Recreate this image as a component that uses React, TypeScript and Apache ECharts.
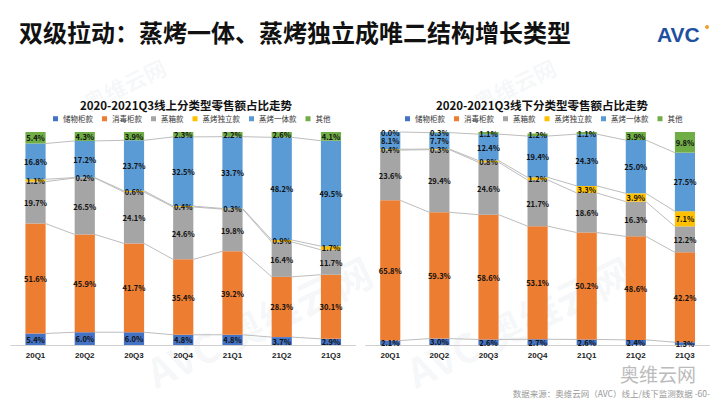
import React, { useEffect, useRef } from 'react';
import * as echarts from 'echarts';

const categories = ['20Q1', '20Q2', '20Q3', '20Q4', '21Q1', '21Q2', '21Q3'];
const seriesNames = ['储物柜款', '消毒柜款', '蒸箱款', '蒸烤独立款', '蒸烤一体款', '其他'];
const colors = ['#4472C4', '#ED7D31', '#A5A5A5', '#FFC000', '#5B9BD5', '#70AD47'];

// 线上
const onlineStorage = [5.4, 6.0, 6.0, 4.8, 4.8, 3.7, 2.9];
const onlineDisinfect = [51.6, 45.9, 41.7, 35.4, 39.2, 28.3, 30.1];
const onlineSteam = [19.7, 26.5, 24.1, 24.6, 19.8, 16.4, 11.7];
const onlineSteamOvenSep = [1.1, 0.2, 0.6, 0.4, 0.3, 0.9, 1.7];
const onlineSteamOvenCombo = [16.8, 17.2, 23.7, 32.5, 33.7, 48.2, 49.5];
const onlineOther = [5.4, 4.3, 3.9, 2.3, 2.2, 2.6, 4.1];

// 线下
const offlineStorage = [2.1, 3.0, 2.6, 2.7, 2.6, 2.4, 1.3];
const offlineDisinfect = [65.8, 59.3, 58.6, 53.1, 50.2, 48.6, 42.2];
const offlineSteam = [23.6, 29.4, 24.6, 21.7, 18.6, 16.3, 12.2];
const offlineSteamOvenSep = [0.4, 0.3, 0.8, 1.2, 3.3, 3.9, 7.1];
const offlineSteamOvenCombo = [8.1, 7.7, 12.4, 19.4, 24.3, 25.0, 27.5];
const offlineOther = [0.0, 0.3, 1.1, 1.2, 1.1, 3.9, 9.8];

const onlineData = [onlineStorage, onlineDisinfect, onlineSteam, onlineSteamOvenSep, onlineSteamOvenCombo, onlineOther];
const offlineData = [offlineStorage, offlineDisinfect, offlineSteam, offlineSteamOvenSep, offlineSteamOvenCombo, offlineOther];

const BAR_FRAC = 0.41;

function cumulative(data: number[][]) {
  const res: number[][] = [];
  let acc = categories.map(() => 0);
  for (let k = 0; k < data.length - 1; k++) {
    acc = acc.map((v, i) => v + data[k][i]);
    res.push(acc.slice());
  }
  return res;
}

function buildSeries(data: number[][], axisIndex: number) {
  const bars = data.map((vals, k) => ({
    name: seriesNames[k],
    type: 'bar',
    stack: 'total' + axisIndex,
    xAxisIndex: axisIndex,
    yAxisIndex: axisIndex,
    barWidth: BAR_FRAC * 100 + '%',
    itemStyle: { color: colors[k] },
    label: {
      show: true,
      position: 'inside',
      fontSize: 7.5,
      fontWeight: 'bold',
      color: '#111',
      fontFamily: 'Noto Sans CJK SC',
      formatter: (p: any) => Number(p.value).toFixed(1) + '%',
    },
    z: 3,
    data: vals,
  }));
  const cum = cumulative(data);
  const connectors = {
    type: 'custom',
    xAxisIndex: axisIndex,
    yAxisIndex: axisIndex,
    silent: true,
    z: 1,
    data: categories.map((c, i) => [i, 0]),
    encode: { x: 0, y: 1 },
    renderItem: (params: any, api: any) => {
      const i = api.value(0);
      if (i >= categories.length - 1) return null;
      const bw = api.size([1, 0])[0] * BAR_FRAC;
      const children: any[] = [];
      for (let k = 0; k < cum.length; k++) {
        const p1 = api.coord([i, cum[k][i]]);
        const p2 = api.coord([i + 1, cum[k][i + 1]]);
        children.push({
          type: 'line',
          shape: { x1: p1[0] + bw / 2, y1: p1[1], x2: p2[0] - bw / 2, y2: p2[1] },
          style: { stroke: '#bdbdbd', lineWidth: 1 },
        });
      }
      return { type: 'group', children };
    },
  };
  return [...bars, connectors];
}

export default function App() {
  const ref = useRef<HTMLDivElement>(null);
  useEffect(() => {
    if (!ref.current) return;
    const chart = echarts.init(ref.current, null, { renderer: 'svg' });
    const axisCommon = {
      type: 'category',
      data: categories,
      axisLine: { lineStyle: { color: '#d0d0d0', width: 1 } },
      axisTick: { show: false },
      axisLabel: { fontSize: 8, fontWeight: 'bold', color: '#222', margin: 6, fontFamily: 'Liberation Sans' },
    };
    const yCommon = { type: 'value', min: 0, max: 100, show: false };
    const legendCommon = {
      data: seriesNames,
      icon: 'rect',
      itemWidth: 5,
      itemHeight: 5,
      itemGap: 9,
      top: 110,
      width: 320,
      textStyle: { fontSize: 7.5, color: '#333', fontFamily: 'Noto Sans CJK SC' },
      selectedMode: false,
    };
    const wm = (left: number, top: number, text: string, size: number) => ({
      type: 'text',
      left,
      top,
      rotation: Math.PI / 7,
      silent: true,
      z: 0,
      style: { text, fontSize: size, fontWeight: 'bold', fill: 'rgba(120,130,150,0.07)', fontFamily: 'Noto Sans CJK SC' },
    });
    chart.setOption({
      animation: false,
      title: [
        {
          text: '双级拉动：蒸烤一体、蒸烤独立成唯二结构增长类型',
          left: 14,
          top: 14,
          textStyle: { fontSize: 24, fontWeight: 'bold', color: '#111', fontFamily: 'Noto Sans CJK SC' },
        },
        {
          text: '2020-2021Q3线上分类型零售额占比走势',
          left: 181,
          textAlign: 'center',
          top: 94,
          textStyle: { fontSize: 11.5, fontWeight: 'bold', color: '#111', fontFamily: 'Noto Sans CJK SC' },
        },
        {
          text: '2020-2021Q3线下分类型零售额占比走势',
          left: 537,
          textAlign: 'center',
          top: 94,
          textStyle: { fontSize: 11.5, fontWeight: 'bold', color: '#111', fontFamily: 'Noto Sans CJK SC' },
        },
      ],
      legend: [
        { ...legendCommon, left: 48 },
        { ...legendCommon, left: 400 },
      ],
      grid: [
        { left: 10.9, width: 344.7, top: 132, bottom: 60 },
        { left: 365.7, width: 343.8, top: 132, bottom: 60 },
      ],
      xAxis: [
        { ...axisCommon, gridIndex: 0 },
        { ...axisCommon, gridIndex: 1 },
      ],
      yAxis: [
        { ...yCommon, gridIndex: 0 },
        { ...yCommon, gridIndex: 1 },
      ],
      series: [...buildSeries(onlineData, 0), ...buildSeries(offlineData, 1)],
      graphic: [
        wm(140, 250, 'AVC 奥维云网', 40),
        wm(400, 250, 'AVC 奥维云网', 40),
        wm(80, 55, '奥维云网', 22),
        wm(470, 55, '奥维云网', 22),
        {
          type: 'text',
          left: 657,
          top: 24,
          style: { text: 'AVC', fontSize: 21, fontWeight: 900, fill: '#1f4fa0', fontFamily: 'Liberation Sans' },
        },
        {
          type: 'circle',
          shape: { cx: 707, cy: 27, r: 2 },
          style: { fill: '#f0a030' },
        },
        {
          type: 'text',
          left: 620,
          top: 364,
          style: { text: '奥维云网', fontSize: 19, fill: '#bbbbbb', fontFamily: 'Noto Sans CJK SC' },
        },
        {
          type: 'text',
          right: 10,
          top: 389,
          style: { text: '数据来源：奥维云网（AVC）线上/线下监测数据 -60-', fontSize: 8.5, fill: '#999', fontFamily: 'Noto Sans CJK SC' },
        },
      ],
    });
    return () => chart.dispose();
  }, []);
  return (
    <div
      ref={ref}
      style={{ position: 'absolute', left: 0, top: 0, width: 720, height: 405, background: '#fff' }}
    />
  );
}
